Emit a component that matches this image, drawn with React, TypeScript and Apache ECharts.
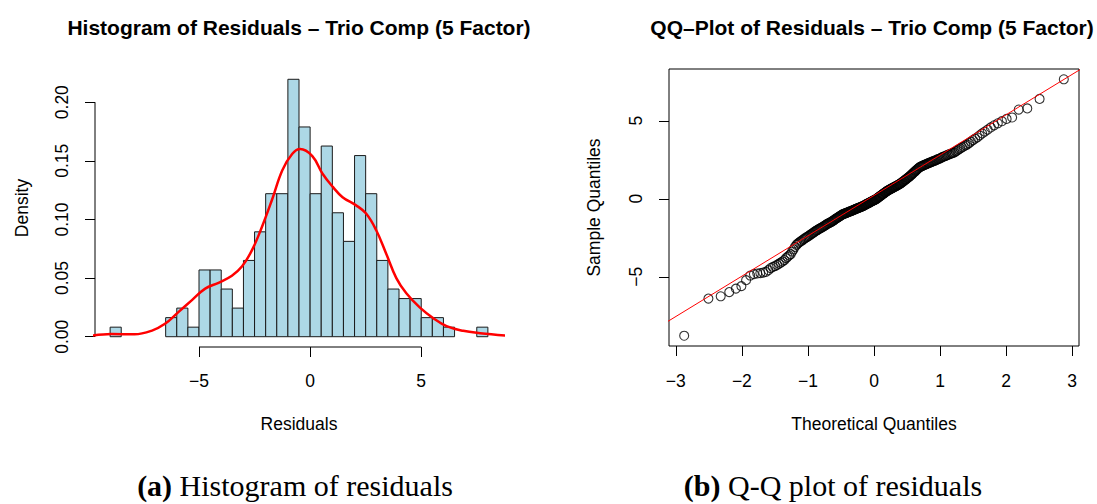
import React, { useEffect, useRef } from "react";
import * as echarts from "echarts";

const residuals = [
  -8.78,
  -6.40, -6.25,
  -5.98, -5.76, -5.60,
  -5.22,
  -4.92, -4.83, -4.79, -4.76, -4.73, -4.69, -4.58,
  -4.44, -4.37, -4.31, -4.24, -4.16, -4.09, -4.02,
  -3.93, -3.81, -3.72, -3.63, -3.55,
  -3.38, -3.24, -3.08,
  -2.96, -2.88, -2.81, -2.75, -2.70, -2.63, -2.58, -2.53,
  -2.48, -2.44, -2.39, -2.35, -2.29, -2.25, -2.20, -2.15, -2.11, -2.06, -2.02,
  -1.99, -1.95, -1.92, -1.88, -1.85, -1.81, -1.78, -1.74, -1.70, -1.67, -1.63, -1.60, -1.57, -1.54, -1.51,
  -1.49, -1.45, -1.42, -1.38, -1.35, -1.31, -1.28, -1.24, -1.21, -1.17, -1.14, -1.11, -1.08, -1.05, -1.02,
  -0.99, -0.97, -0.95, -0.94, -0.92, -0.90, -0.88, -0.86, -0.84, -0.82, -0.80, -0.79, -0.77, -0.75,
  -0.73, -0.71, -0.69, -0.67, -0.65, -0.63, -0.61, -0.60, -0.58, -0.56, -0.54, -0.53, -0.51,
  -0.49, -0.47, -0.45, -0.42, -0.40, -0.38, -0.35, -0.33, -0.31, -0.28, -0.26, -0.24, -0.22, -0.19,
  -0.17, -0.15, -0.12, -0.10, -0.08, -0.06, -0.04, -0.02,
  0.02, 0.05, 0.09, 0.12, 0.15, 0.18, 0.21, 0.25, 0.28, 0.31, 0.34, 0.38, 0.41, 0.44, 0.48,
  0.51, 0.53, 0.56, 0.58, 0.60, 0.63, 0.65, 0.68, 0.70, 0.73, 0.75, 0.78, 0.80, 0.83, 0.85, 0.88, 0.90, 0.93, 0.95, 0.98,
  1.02, 1.06, 1.09, 1.13, 1.17, 1.21, 1.25, 1.28, 1.32, 1.36, 1.40, 1.44, 1.48,
  1.53, 1.58, 1.63, 1.67, 1.72, 1.77, 1.82, 1.87, 1.92, 1.97,
  2.02, 2.04, 2.07, 2.09, 2.12, 2.15, 2.17, 2.20, 2.22, 2.25, 2.28, 2.30, 2.33, 2.35, 2.38, 2.41, 2.43, 2.46, 2.48,
  2.52, 2.55, 2.58, 2.61, 2.65, 2.68, 2.71, 2.74, 2.78, 2.81, 2.84, 2.87, 2.91, 2.94, 2.97,
  3.04, 3.10, 3.17, 3.23, 3.29, 3.35, 3.42, 3.47,
  3.57, 3.66, 3.76, 3.85, 3.94,
  4.06, 4.19, 4.31, 4.43,
  4.57, 4.71, 4.84, 4.97,
  5.12, 5.21,
  5.72, 5.79,
  6.40,
  7.66,
];

const histBreaks = [
  -9, -8.5, -8, -7.5, -7, -6.5, -6, -5.5, -5, -4.5, -4, -3.5, -3, -2.5, -2, -1.5, -1, -0.5,
  0, 0.5, 1, 1.5, 2, 2.5, 3, 3.5, 4, 4.5, 5, 5.5, 6, 6.5, 7, 7.5, 8,
];

// Kernel density curve
const densityX = [
  -9.77, -8.95, -7.9, -7.14, -6.53, -5.93, -5.33, -4.72, -4.12, -3.52, -3.06, -2.61, -2.16, -1.71,
  -1.25, -0.8, -0.45, 0.1, 0.56, 1.01, 1.46, 2.07, 2.52, 2.97, 3.42, 3.88, 4.33, 4.93, 5.53, 6.14,
  6.89, 7.65, 8.82,
];
const densityY = [
  0.001, 0.0023, 0.002, 0.005, 0.011, 0.021, 0.031, 0.041, 0.046, 0.052, 0.06, 0.074, 0.094, 0.117,
  0.142, 0.156, 0.16, 0.154, 0.139, 0.128, 0.119, 0.112, 0.105, 0.091, 0.071, 0.05, 0.037, 0.025,
  0.016, 0.009, 0.005, 0.003, 0.001,
];

const histXTicks = [-5, 0, 5];
const histYTicks = [0, 0.05, 0.1, 0.15, 0.2];
const qqXTicks = [-3, -2, -1, 0, 1, 2, 3];
const qqYTicks = [-5, 0, 5];

const histTitle = "Histogram of Residuals \u2013 Trio Comp (5 Factor)";
const qqTitle = "QQ\u2013Plot of Residuals \u2013 Trio Comp (5 Factor)";

function qnorm(p: number): number {
  const a = [-3.969683028665376e1, 2.209460984245205e2, -2.759285104469687e2, 1.38357751867269e2, -3.066479806614716e1, 2.506628277459239];
  const b = [-5.447609879822406e1, 1.615858368580409e2, -1.556989798598866e2, 6.680131188771972e1, -1.328068155288572e1];
  const c = [-7.784894002430293e-3, -3.223964580411365e-1, -2.400758277161838, -2.549732539343734, 4.374664141464968, 2.938163982698783];
  const d = [7.784695709041462e-3, 3.224671290700398e-1, 2.445134137142996, 3.754408661907416];
  const pl = 0.02425;
  if (p < pl) {
    const q = Math.sqrt(-2 * Math.log(p));
    return (((((c[0] * q + c[1]) * q + c[2]) * q + c[3]) * q + c[4]) * q + c[5]) / ((((d[0] * q + d[1]) * q + d[2]) * q + d[3]) * q + 1);
  }
  if (p > 1 - pl) {
    const q = Math.sqrt(-2 * Math.log(1 - p));
    return -(((((c[0] * q + c[1]) * q + c[2]) * q + c[3]) * q + c[4]) * q + c[5]) / ((((d[0] * q + d[1]) * q + d[2]) * q + d[3]) * q + 1);
  }
  const q = p - 0.5;
  const r = q * q;
  return ((((((a[0] * r + a[1]) * r + a[2]) * r + a[3]) * r + a[4]) * r + a[5]) * q) / (((((b[0] * r + b[1]) * r + b[2]) * r + b[3]) * r + b[4]) * r + 1);
}

function quantile7(sorted: number[], p: number): number {
  const h = (sorted.length - 1) * p;
  const lo = Math.floor(h);
  const hi = Math.min(lo + 1, sorted.length - 1);
  return sorted[lo] + (h - lo) * (sorted[hi] - sorted[lo]);
}

const minus = (v: number) => (v < 0 ? "\u2212" + Math.abs(v) : String(v));

const SANS = "'Liberation Sans', Arial, Helvetica, sans-serif";
const SERIF = "'Liberation Serif', 'Times New Roman', serif";

export default function App() {
  const ref = useRef<HTMLDivElement>(null);

  useEffect(() => {
    if (!ref.current) return;
    const chart = echarts.init(ref.current, null, { renderer: "svg" });

    const n = residuals.length;
    const sorted = [...residuals].sort((a, b) => a - b);

    // histogram (R style: right-closed bins, density scale)
    const bins: number[][] = [];
    for (let i = 0; i < histBreaks.length - 1; i++) {
      const lo = histBreaks[i];
      const hi = histBreaks[i + 1];
      const cnt = sorted.filter((v) => (i === 0 ? v >= lo : v > lo) && v <= hi).length;
      if (cnt > 0) bins.push([lo, hi, cnt / (n * (hi - lo))]);
    }
    const maxDens = Math.max(...bins.map((b) => b[2]));
    const hxMin0 = histBreaks[0];
    const hxMax0 = histBreaks[histBreaks.length - 1];
    const hxPad = (hxMax0 - hxMin0) * 0.04;
    const hxMin = hxMin0 - hxPad;
    const hxMax = hxMax0 + hxPad;
    const hyMin = -maxDens * 0.04;
    const hyMax = maxDens * 1.04;

    // QQ plot
    const qqPts = sorted.map((v, i) => [qnorm((i + 1 - 0.5) / n), v]);
    const tMin = qqPts[0][0];
    const tMax = qqPts[n - 1][0];
    const qxMin = tMin - (tMax - tMin) * 0.04;
    const qxMax = tMax + (tMax - tMin) * 0.04;
    const sMin = sorted[0];
    const sMax = sorted[n - 1];
    const qyMin = sMin - (sMax - sMin) * 0.04;
    const qyMax = sMax + (sMax - sMin) * 0.04;
    const q1 = quantile7(sorted, 0.25);
    const q3 = quantile7(sorted, 0.75);
    const z1 = qnorm(0.25);
    const z3 = qnorm(0.75);
    const slope = (q3 - q1) / (z3 - z1);
    const intercept = q1 - slope * z1;

    const tickStyle = { lineStyle: { color: "#000", width: 1 } };
    const labelBase = { color: "#000", fontFamily: SANS, fontSize: 17.5 };

    const option: any = {
      animation: false,
      backgroundColor: "#fff",
      grid: [
        { left: 95, top: 69, width: 408, height: 278, show: false },
        { left: 669, top: 69, width: 410, height: 277, show: true, borderColor: "#000", borderWidth: 1, backgroundColor: "transparent" },
      ],
      xAxis: [
        {
          type: "value",
          gridIndex: 0,
          min: hxMin,
          max: hxMax,
          splitLine: { show: false },
          axisLine: { show: false, onZero: false },
          axisTick: { show: true, inside: false, length: 10, customValues: histXTicks, ...tickStyle },
          axisLabel: { show: true, customValues: histXTicks, margin: 25, formatter: minus, ...labelBase },
          name: "Residuals",
          nameLocation: "middle",
          nameGap: 68,
          nameTextStyle: { ...labelBase },
        },
        {
          type: "value",
          gridIndex: 1,
          min: qxMin,
          max: qxMax,
          splitLine: { show: false },
          axisLine: { show: false, onZero: false },
          axisTick: { show: true, inside: false, length: 10, customValues: qqXTicks, ...tickStyle },
          axisLabel: { show: true, customValues: qqXTicks, margin: 26, formatter: minus, ...labelBase },
          name: "Theoretical Quantiles",
          nameLocation: "middle",
          nameGap: 69,
          nameTextStyle: { ...labelBase },
        },
      ],
      yAxis: [
        {
          type: "value",
          gridIndex: 0,
          min: hyMin,
          max: hyMax,
          splitLine: { show: false },
          axisLine: { show: false, onZero: false },
          axisTick: { show: true, inside: false, length: 10, customValues: histYTicks, ...tickStyle },
          axisLabel: { show: true, customValues: histYTicks, margin: 24, rotate: 90, formatter: (v: number) => v.toFixed(2), ...labelBase },
          name: "Density",
          nameLocation: "middle",
          nameRotate: 90,
          nameGap: 64,
          nameTextStyle: { ...labelBase },
        },
        {
          type: "value",
          gridIndex: 1,
          min: qyMin,
          max: qyMax,
          splitLine: { show: false },
          axisLine: { show: false, onZero: false },
          axisTick: { show: true, inside: false, length: 10, customValues: qqYTicks, ...tickStyle },
          axisLabel: { show: true, customValues: qqYTicks, margin: 24, rotate: 90, formatter: minus, ...labelBase },
          name: "Sample Quantiles",
          nameLocation: "middle",
          nameRotate: 90,
          nameGap: 66,
          nameTextStyle: { ...labelBase },
        },
      ],
      series: [
        {
          type: "custom",
          name: "hist",
          xAxisIndex: 0,
          yAxisIndex: 0,
          data: bins,
          encode: { x: [0, 1], y: 2 },
          renderItem: (_params: any, api: any) => {
            const p0 = api.coord([api.value(0), 0]);
            const p1 = api.coord([api.value(1), api.value(2)]);
            return {
              type: "rect",
              shape: { x: p0[0], y: p1[1], width: p1[0] - p0[0], height: p0[1] - p1[1] },
              style: { fill: "#ADD8E6", stroke: "#1a1a1a", lineWidth: 1 },
            };
          },
          silent: true,
        },
        {
          type: "line",
          name: "density",
          xAxisIndex: 0,
          yAxisIndex: 0,
          data: densityX.map((x, i) => [x, densityY[i]]),
          smooth: 0.4,
          showSymbol: false,
          symbol: "none",
          clip: true,
          lineStyle: { color: "#FF0000", width: 2.5 },
          silent: true,
          z: 5,
        },
        {
          type: "line",
          name: "xaxisline",
          xAxisIndex: 0,
          yAxisIndex: 0,
          data: [[histXTicks[0], hyMin], [histXTicks[histXTicks.length - 1], hyMin]],
          symbol: "none",
          clip: false,
          lineStyle: { color: "#000", width: 1 },
          silent: true,
        },
        {
          type: "line",
          name: "yaxisline",
          xAxisIndex: 0,
          yAxisIndex: 0,
          data: [[hxMin, histYTicks[0]], [hxMin, histYTicks[histYTicks.length - 1]]],
          symbol: "none",
          clip: false,
          lineStyle: { color: "#000", width: 1 },
          silent: true,
        },
        {
          type: "scatter",
          name: "qq",
          xAxisIndex: 1,
          yAxisIndex: 1,
          data: qqPts,
          symbol: "circle",
          symbolSize: 9,
          itemStyle: { color: "rgba(0,0,0,0)", borderColor: "#000", borderWidth: 1.1 },
          silent: true,
          z: 3,
        },
        {
          type: "line",
          name: "qqline",
          xAxisIndex: 1,
          yAxisIndex: 1,
          data: [[qxMin - 1, intercept + slope * (qxMin - 1)], [qxMax + 1, intercept + slope * (qxMax + 1)]],
          symbol: "none",
          clip: true,
          lineStyle: { color: "#FF0000", width: 1 },
          silent: true,
          z: 4,
        },
      ],
      graphic: [
        {
          type: "text",
          x: 299,
          y: 27,
          style: { text: histTitle, fontFamily: SANS, fontSize: 21, fontWeight: "bold", fill: "#000", align: "center", verticalAlign: "middle", textAlign: "center", textVerticalAlign: "middle" },
        },
        {
          type: "text",
          x: 872,
          y: 27,
          style: { text: qqTitle, fontFamily: SANS, fontSize: 21, fontWeight: "bold", fill: "#000", align: "center", verticalAlign: "middle", textAlign: "center", textVerticalAlign: "middle" },
        },
        {
          type: "text",
          x: 295,
          y: 485,
          style: {
            text: "{b|(a)} Histogram of residuals",
            fontFamily: SERIF,
            fontSize: 30,
            fill: "#000",
            align: "center",
            verticalAlign: "middle",
            textAlign: "center",
            textVerticalAlign: "middle",
            rich: { b: { fontFamily: SERIF, fontSize: 30, fontWeight: "bold", fill: "#000" } },
          },
        },
        {
          type: "text",
          x: 833,
          y: 485,
          style: {
            text: "{b|(b)} Q-Q plot of residuals",
            fontFamily: SERIF,
            fontSize: 30,
            fill: "#000",
            align: "center",
            verticalAlign: "middle",
            textAlign: "center",
            textVerticalAlign: "middle",
            rich: { b: { fontFamily: SERIF, fontSize: 30, fontWeight: "bold", fill: "#000" } },
          },
        },
      ],
    };

    chart.setOption(option);
    return () => chart.dispose();
  }, []);

  return (
    <div
      ref={ref}
      style={{ position: "fixed", left: 0, top: 0, width: 1097, height: 504, background: "#fff" }}
    />
  );
}
